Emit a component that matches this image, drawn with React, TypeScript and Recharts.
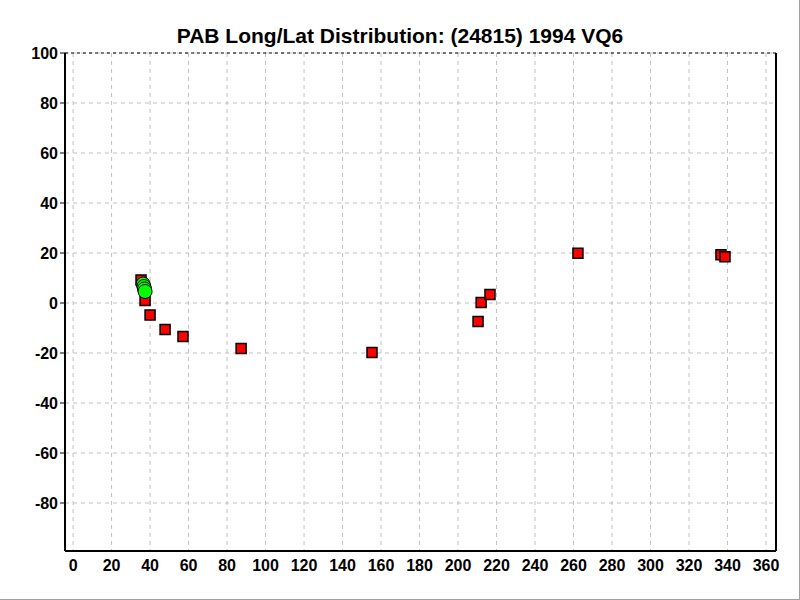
import {
  ScatterChart,
  Scatter,
  XAxis,
  YAxis,
  CartesianGrid,
  ReferenceLine
} from 'recharts'

// PAB observations (longitude, latitude)
const pabLong = [35.3, 37.4, 40, 47.8, 57.1, 87.3, 155.3, 210.4, 212, 216.6, 262.3, 336.6, 338.7]
const pabLat = [9.2, 1.0, -4.8, -10.6, -13.4, -18.2, -19.8, -7.4, 0.2, 3.4, 19.9, 19.3, 18.5]

// highlighted positions (green)
const hiLong = [36.4, 36.8, 37.1, 37.4]
const hiLat = [7.6, 6.6, 5.6, 4.6]

const xTicks = [0, 20, 40, 60, 80, 100, 120, 140, 160, 180, 200, 220, 240, 260, 280, 300, 320, 340, 360]
const yTicks = [-80, -60, -40, -20, 0, 20, 40, 60, 80, 100]

const X_MIN = -4.2
const X_MAX = 365.2
const Y_MIN = -99.2
const Y_MAX = 100

const pabData = pabLong.map((x, i) => ({ x, y: pabLat[i] }))
const hiData = hiLong.map((x, i) => ({ x, y: hiLat[i] }))

const font = '"Liberation Sans", Arial, sans-serif'
const tickStyle = { fontSize: 16, fontWeight: 'bold', fill: '#000', fontFamily: font }

const RedSquare = (props: any) => {
  const { cx, cy } = props
  if (cx == null || cy == null) return null
  return (
    <rect x={cx - 5} y={cy - 5} width={10} height={10}
      fill="#ff0000" stroke="#000" strokeWidth={1.5} />
  )
}

const GreenDot = (props: any) => {
  const { cx, cy } = props
  if (cx == null || cy == null) return null
  return <circle cx={cx} cy={cy} r={7} fill="#00ff00" stroke="#000" strokeWidth={1} />
}

export default function App() {
  return (
    <div style={{
      position: 'absolute', left: 0, top: 0, width: 799, height: 599,
      background: '#fff', borderRight: '1px solid #a0a0a0', borderBottom: '1px solid #a0a0a0'
    }}>
      <div style={{
        position: 'absolute', left: 0, top: 24, width: 800, textAlign: 'center',
        fontFamily: font, fontWeight: 'bold', fontSize: 21, color: '#000'
      }}>
        PAB Long/Lat Distribution: (24815) 1994 VQ6
      </div>
      <ScatterChart
        width={800}
        height={600}
        margin={{ top: 53, right: 24, bottom: 0, left: 0 }}
      >
        <CartesianGrid stroke="#c0c0c0" strokeDasharray="4 4" />
        <XAxis
          type="number"
          dataKey="x"
          domain={[X_MIN, X_MAX]}
          ticks={xTicks}
          allowDataOverflow
          height={49}
          tick={tickStyle}
          tickLine={false}
          tickSize={5}
          tickMargin={4}
          axisLine={{ stroke: '#000', strokeWidth: 2 }}
        />
        <YAxis
          type="number"
          dataKey="y"
          domain={[Y_MIN, Y_MAX]}
          ticks={yTicks}
          allowDataOverflow
          width={65}
          tick={tickStyle}
          tickLine={{ stroke: '#000' }}
          tickSize={5}
          tickMargin={2}
          axisLine={{ stroke: '#000', strokeWidth: 2 }}
        />
        <ReferenceLine y={Y_MAX} stroke="#000" strokeDasharray="3 3" />
        <ReferenceLine x={X_MAX} stroke="#000" strokeWidth={2} />
        <Scatter data={pabData} shape={RedSquare} isAnimationActive={false} />
        <Scatter data={hiData} shape={GreenDot} isAnimationActive={false} />
      </ScatterChart>
    </div>
  )
}
